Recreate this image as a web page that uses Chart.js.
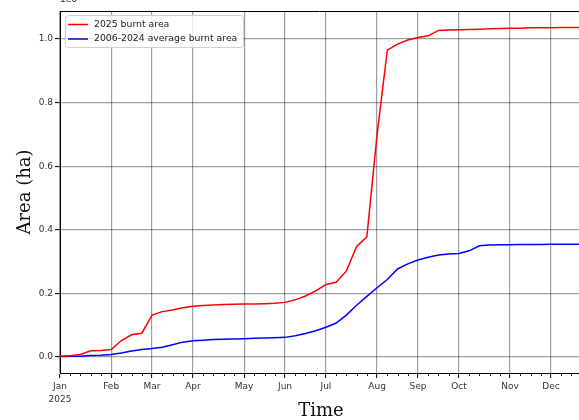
<!DOCTYPE html>
<html>
<head>
<meta charset="utf-8">
<script src="https://cdn.jsdelivr.net/npm/chart.js@4.4.1/dist/chart.umd.min.js"></script>
<style>
  html, body { margin: 0; padding: 0; background: #fff; overflow: hidden; }
  #wrap { width: 579px; height: 420px; }
</style>
</head>
<body>
<div id="wrap"><canvas id="burnChart"></canvas></div>
<script>
// weekly series, area in units of 1e6 ha (as shown on the axis)
const weekIndex = [];
for (let i = 0; i < 52; i++) weekIndex.push(i);

const burnt2025 = [
  0.003, 0.004, 0.008, 0.020, 0.021, 0.024, 0.052, 0.070, 0.075, 0.132,
  0.143, 0.148, 0.155, 0.160, 0.162, 0.164, 0.165, 0.166, 0.167, 0.167,
  0.168, 0.169, 0.172, 0.180, 0.192, 0.208, 0.228, 0.235, 0.271, 0.348,
  0.378, 0.700, 0.965, 0.984, 0.997, 1.005, 1.010, 1.027, 1.028, 1.029,
  1.030, 1.031, 1.032, 1.033, 1.034, 1.034, 1.035, 1.035, 1.035, 1.036,
  1.036, 1.036
];

const burntAvg = [
  0.002, 0.003, 0.003, 0.005, 0.006, 0.008, 0.013, 0.019, 0.024, 0.027,
  0.031, 0.039, 0.047, 0.051, 0.053, 0.055, 0.056, 0.057, 0.058, 0.059,
  0.060, 0.061, 0.062, 0.067, 0.074, 0.083, 0.094, 0.107, 0.132, 0.163,
  0.191, 0.218, 0.244, 0.277, 0.293, 0.305, 0.314, 0.321, 0.324, 0.326,
  0.334, 0.350, 0.352, 0.353, 0.353, 0.354, 0.354, 0.354, 0.355, 0.355,
  0.355, 0.355
];

// first week of each month
const monthWeeks = [0, 5, 9, 13, 18, 22, 26, 31, 35, 39, 44, 48];
const monthLabels = ["Jan", "Feb", "Mar", "Apr", "May", "Jun", "Jul", "Aug", "Sep", "Oct", "Nov", "Dec"];
const yTicks = [0.0, 0.2, 0.4, 0.6, 0.8, 1.0];

const seriesNames = ["2025 burnt area", "2006-2024 average burnt area"];

function toPoints(vals) {
  return vals.map((v, i) => ({ x: weekIndex[i], y: v }));
}

const tickFont = { family: "DejaVu Sans", size: 9, lineHeight: 1.35 };

// legend, axis titles, top spine, minor ticks
const decorations = {
  id: "decorations",
  afterDraw(chart) {
    const ctx = chart.ctx;
    const a = chart.chartArea;
    const xs = chart.scales.x;
    ctx.save();

    // top spine
    ctx.strokeStyle = "#000";
    ctx.lineWidth = 1;
    ctx.beginPath();
    ctx.moveTo(a.left, a.top + 0.5);
    ctx.lineTo(a.right, a.top + 0.5);
    ctx.stroke();

    // minor weekly ticks
    ctx.beginPath();
    weekIndex.forEach(w => {
      if (monthWeeks.includes(w)) return;
      const px = Math.round(xs.getPixelForValue(w)) + 0.5;
      if (px > a.right) return;
      ctx.moveTo(px, a.bottom);
      ctx.lineTo(px, a.bottom + 3);
    });
    ctx.stroke();

    // offset text
    ctx.fillStyle = "#222";
    ctx.font = "9px 'DejaVu Sans'";
    ctx.textAlign = "left";
    ctx.textBaseline = "bottom";
    ctx.fillText("1e6", a.left, a.top - 7);

    // axis titles
    ctx.fillStyle = "#111";
    ctx.font = "18px 'DejaVu Serif'";
    ctx.textAlign = "center";
    ctx.textBaseline = "middle";
    ctx.fillText("Time", 321, 411);
    ctx.save();
    ctx.translate(25, (a.top + a.bottom) / 2);
    ctx.rotate(-Math.PI / 2);
    ctx.fillText("Area (ha)", 0, 0);
    ctx.restore();

    // legend box
    const bx = 65, by = 15, bw = 178, bh = 32;
    ctx.fillStyle = "rgba(255,255,255,0.8)";
    ctx.strokeStyle = "#d0d0d0";
    ctx.lineWidth = 1;
    ctx.beginPath();
    ctx.roundRect(bx + 0.5, by + 0.5, bw, bh, 3);
    ctx.fill();
    ctx.stroke();

    ctx.font = "9.3px 'DejaVu Sans'";
    ctx.textAlign = "left";
    ctx.textBaseline = "middle";
    chart.data.datasets.forEach((ds, i) => {
      const ly = 24.5 + i * 14.5;
      ctx.strokeStyle = ds.borderColor;
      ctx.lineWidth = 1.5;
      ctx.beginPath();
      ctx.moveTo(68, ly);
      ctx.lineTo(88, ly);
      ctx.stroke();
      ctx.fillStyle = "#222";
      ctx.fillText(ds.label, 94, ly);
    });

    ctx.restore();
  }
};

new Chart(document.getElementById("burnChart"), {
  type: "line",
  data: {
    datasets: [
      {
        label: seriesNames[0],
        data: toPoints(burnt2025),
        borderColor: "#ff0000",
        borderWidth: 1.5,
        pointRadius: 0,
        tension: 0,
        fill: false
      },
      {
        label: seriesNames[1],
        data: toPoints(burntAvg),
        borderColor: "#0000ff",
        borderWidth: 1.5,
        pointRadius: 0,
        tension: 0,
        fill: false
      }
    ]
  },
  options: {
    responsive: true,
    maintainAspectRatio: false,
    animation: false,
    layout: { padding: { top: 11, left: 0, right: 0, bottom: 0 } },
    plugins: {
      legend: { display: false },
      tooltip: { enabled: false }
    },
    scales: {
      x: {
        type: "linear",
        min: 0,
        max: 50.74,
        afterBuildTicks(scale) {
          scale.ticks = monthWeeks.map(v => ({ value: v }));
        },
        afterFit(scale) { scale.height = 47; },
        ticks: {
          color: "#333",
          font: tickFont,
          padding: 3,
          maxRotation: 0,
          autoSkip: false,
          callback(value) {
            const i = monthWeeks.indexOf(value);
            if (i < 0) return "";
            return i === 0 ? [monthLabels[0], "2025"] : monthLabels[i];
          }
        },
        grid: {
          color: "rgba(0,0,0,0.38)",
          lineWidth: 1.2,
          tickLength: 5,
          tickColor: "#000",
          tickWidth: 1
        },
        border: { color: "#000", width: 1 }
      },
      y: {
        min: -0.05,
        max: 1.088,
        afterBuildTicks(scale) {
          scale.ticks = yTicks.map(v => ({ value: v }));
        },
        afterFit(scale) { scale.width = 60; },
        ticks: {
          color: "#333",
          font: tickFont,
          padding: 2,
          callback(value) { return value.toFixed(1); }
        },
        grid: {
          color: "rgba(0,0,0,0.38)",
          lineWidth: 1.2,
          tickLength: 5,
          tickColor: "#000",
          tickWidth: 1
        },
        border: { color: "#000", width: 1 }
      }
    }
  },
  plugins: [decorations]
});
</script>
</body>
</html>
